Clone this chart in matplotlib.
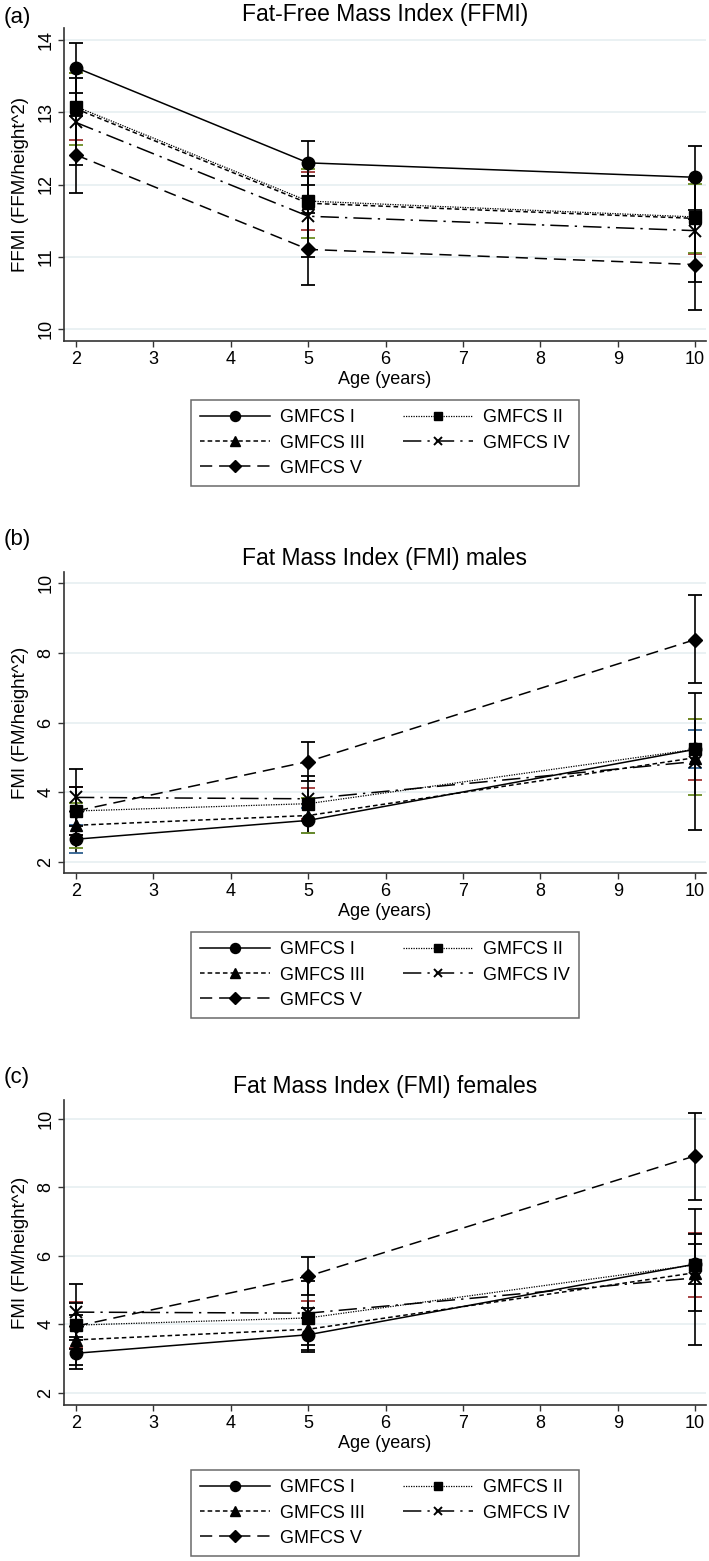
import matplotlib
matplotlib.use("Agg")
import matplotlib.pyplot as plt

plt.rcParams["font.family"] = ["Liberation Sans", "DejaVu Sans"]

W, H = 709, 1561

# ---- data ----
AGES = [2, 5, 10]
GROUPS = ["GMFCS I", "GMFCS II", "GMFCS III", "GMFCS IV", "GMFCS V"]

FFMI_MEAN = [[13.62, 12.30, 12.10], [13.08, 11.77, 11.55], [13.05, 11.74, 11.53],
             [12.86, 11.56, 11.36], [12.41, 11.10, 10.89]]
FFMI_LO = [[13.27, 12.00, 11.65], [12.62, 11.37, 11.04], [12.55, 11.26, 11.05],
           [12.27, 11.00, 10.65], [11.88, 10.60, 10.26]]
FFMI_HI = [[13.96, 12.60, 12.53], [13.55, 12.17, 12.06], [13.55, 12.22, 12.01],
           [13.48, 12.12, 12.07], [12.95, 11.60, 11.52]]

FMI_M_MEAN = [[2.65, 3.19, 5.23], [3.46, 3.67, 5.23], [3.05, 3.33, 4.99],
              [3.85, 3.81, 4.88], [3.46, 4.88, 8.38]]
FMI_M_LO = [[2.24, 2.84, 4.68], [2.78, 3.22, 4.36], [2.40, 2.82, 3.91],
            [3.04, 3.16, 2.92], [2.78, 4.32, 7.13]]
FMI_M_HI = [[3.06, 3.54, 5.79], [4.14, 4.12, 6.10], [3.70, 3.84, 6.10],
            [4.66, 4.46, 6.85], [4.14, 5.44, 9.65]]

FMI_F_MEAN = [[3.16, 3.70, 5.76], [3.98, 4.19, 5.74], [3.55, 3.86, 5.51],
              [4.36, 4.33, 5.36], [3.95, 5.41, 8.92]]
FMI_F_LO = [[2.69, 3.20, 5.18], [3.30, 3.69, 4.81], [2.83, 3.25, 4.38],
            [3.54, 3.39, 3.40], [3.28, 4.85, 7.63]]
FMI_F_HI = [[3.63, 4.20, 6.34], [4.66, 4.69, 6.67], [4.27, 4.47, 6.64],
            [5.18, 5.27, 7.38], [4.62, 5.97, 10.18]]

TITLES = ["Fat-Free Mass Index (FFMI)", "Fat Mass Index (FMI) males",
          "Fat Mass Index (FMI) females"]
YLABELS = ["FFMI (FFM/height^2)", "FMI (FM/height^2)", "FMI (FM/height^2)"]
PANEL_TAGS = ["(a)", "(b)", "(c)"]
YTICKS = [[10, 11, 12, 13, 14], [2, 4, 6, 8, 10], [2, 4, 6, 8, 10]]
YLIMS = [(9.83, 14.17), (1.68, 10.32), (1.65, 10.55)]

# ---- styles ----
MARKERS = ["o", "s", "^", "x", "D"]
MSIZES = [9, 8, 9, 8, 7.5]
DASHES = ["-", (0, (1, 1)), (0, (3, 2)), (0, (12, 4, 1.5, 4)), (0, (8, 4.5))]
WIDTHS = [1.1, 0.9, 1.1, 1.1, 1.1]
BLUE, RED, GREEN, K = "#2e5f8f", "#a03535", "#6b8e23", "black"
CAP_COLORS = [[K, RED, GREEN, K, K], [BLUE, RED, GREEN, K, K], [K, RED, K, K, K]]

# pixel boxes
AX_TOP = [28, 572, 1100]
AX_BOT = [341, 873, 1405]
TAG_Y = [17, 540, 1077]
LEG_TOP = [402, 934, 1472]
AX_LEFT, AX_RIGHT = 64, 706
LEG_LEFT, LEG_RIGHT = 191, 579

fig = plt.figure(figsize=(W / 100, H / 100), dpi=100)

panels = [(FFMI_MEAN, FFMI_LO, FFMI_HI), (FMI_M_MEAN, FMI_M_LO, FMI_M_HI),
          (FMI_F_MEAN, FMI_F_LO, FMI_F_HI)]

for p, (mean, lo, hi) in enumerate(panels):
    ax = fig.add_axes([AX_LEFT / W, 1 - AX_BOT[p] / H,
                       (AX_RIGHT - AX_LEFT) / W, (AX_BOT[p] - AX_TOP[p]) / H])
    handles = []
    for g in range(len(GROUPS)):
        # confidence intervals: black stems, caps coloured where the source shows it
        ax.vlines(AGES, lo[g], hi[g], color="black", lw=1.2, zorder=2)
        cc = CAP_COLORS[p][g]
        ax.plot(AGES, lo[g], "_", color=cc, ms=9.5, mew=1.3, zorder=2)
        ax.plot(AGES, hi[g], "_", color=cc, ms=9.5, mew=1.3, zorder=2)
        ln, = ax.plot(AGES, mean[g], color="black", linestyle=DASHES[g], lw=WIDTHS[g],
                      marker=MARKERS[g], ms=MSIZES[g], mew=1.4 if MARKERS[g] == "x" else 1,
                      mfc="black", mec="black", label=GROUPS[g], zorder=3)
        handles.append(ln)

    ax.set_xlim(1.845, 10.14)
    ax.set_ylim(*YLIMS[p])
    ax.set_xticks(range(2, 11))
    ax.set_yticks(YTICKS[p])
    ax.grid(axis="y", color="#e4edf0", lw=1.1, zorder=0)
    ax.set_axisbelow(True)
    for s in ("top", "right"):
        ax.spines[s].set_visible(False)
    for s in ("left", "bottom"):
        ax.spines[s].set_color("#333333")
        ax.spines[s].set_linewidth(1.2)
    ax.tick_params(direction="out", length=4, width=1, color="#333333",
                   labelsize=13, pad=3)
    for lab in ax.get_yticklabels():
        lab.set_rotation(90)
        lab.set_va("center")
    ax.set_xlabel("Age (years)", fontsize=13, labelpad=2)
    ax.set_ylabel(YLABELS[p], fontsize=13.5, labelpad=6)
    ax.set_title(TITLES[p], fontsize=16.5, pad=5)
    fig.text(4 / W, 1 - TAG_Y[p] / H, PANEL_TAGS[p], fontsize=16, ha="left", va="center")

    order = [handles[0], handles[2], handles[4], handles[1], handles[3]]
    leg = fig.legend(handles=order, ncol=2, loc="upper left", mode="expand",
                     bbox_to_anchor=(LEG_LEFT / W, 1 - LEG_TOP[p] / H,
                                     (LEG_RIGHT - LEG_LEFT) / W, 0.001),
                     fontsize=13, handlelength=3.9, handletextpad=0.55,
                     columnspacing=1.3, labelspacing=0.45, borderpad=0.5,
                     borderaxespad=0, markerscale=0.8, fancybox=False, frameon=True)
    leg.get_frame().set_edgecolor("#444444")
    leg.get_frame().set_linewidth(1.1)

fig.savefig("out.png", dpi=100)
